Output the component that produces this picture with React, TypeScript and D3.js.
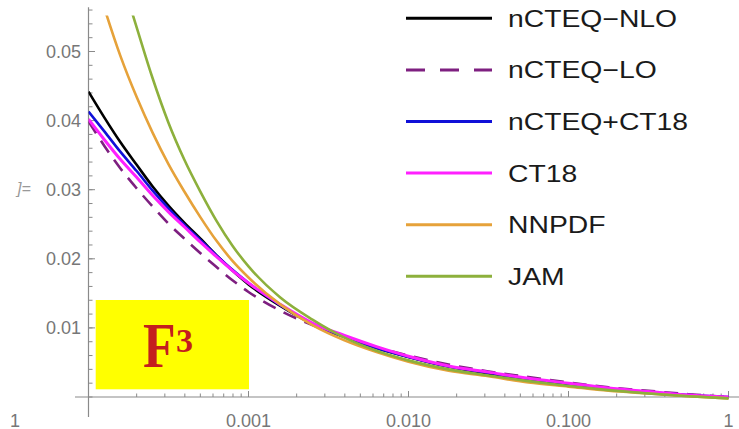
import * as d3 from "d3";

// x grid (log spaced), shared by every curve
const xValues = [
  0.0001, 0.000126, 0.000158, 0.0002, 0.000251, 0.000316, 0.000398, 0.000501,
  0.000631, 0.000794, 0.001, 0.00158, 0.00251, 0.00398, 0.00631, 0.01, 0.0178,
  0.0316, 0.0562, 0.1, 0.178, 0.316, 0.562, 1,
];

const nloValues = [
  0.0442, 0.0404, 0.0369, 0.0336, 0.0305, 0.0277, 0.0252, 0.0229, 0.0205,
  0.0183, 0.0163, 0.0132, 0.0106, 0.0087, 0.0071, 0.0058, 0.0044, 0.0034,
  0.0026, 0.0018, 0.0012, 0.0006, 0.0002, -0.0001,
];
const loValues = [
  0.0399, 0.0363, 0.0331, 0.0302, 0.0276, 0.0251, 0.0229, 0.0208, 0.0188,
  0.0169, 0.0152, 0.0125, 0.0104, 0.0087, 0.0072, 0.006, 0.0047, 0.0037,
  0.0029, 0.0021, 0.0014, 0.0009, 0.0004, 0.0,
];
const blueValues = [
  0.0413, 0.0384, 0.0355, 0.0327, 0.0299, 0.0273, 0.0249, 0.0227, 0.0205,
  0.0184, 0.0165, 0.0133, 0.0106, 0.0087, 0.0071, 0.0058, 0.0044, 0.0035,
  0.0026, 0.0019, 0.0012, 0.0007, 0.0003, 0.0,
];
const ct18Values = [
  0.0402, 0.0372, 0.0344, 0.0318, 0.0292, 0.0268, 0.0246, 0.0224, 0.0203,
  0.0183, 0.0165, 0.0134, 0.0107, 0.0089, 0.0073, 0.0059, 0.0045, 0.0036,
  0.0027, 0.002, 0.0013, 0.0008, 0.0003, 0.0,
];
const nnpdfValues = [
  0.0638, 0.0562, 0.0494, 0.0434, 0.0383, 0.0337, 0.0297, 0.026, 0.0226,
  0.0197, 0.0173, 0.0134, 0.0104, 0.0082, 0.0065, 0.0051, 0.0038, 0.003,
  0.0021, 0.0015, 0.0009, 0.0005, 0.0001, -0.0002,
];
const jamValues = [
  0.0782, 0.0695, 0.0612, 0.0535, 0.0462, 0.0397, 0.0343, 0.0297, 0.0255,
  0.0219, 0.0189, 0.0144, 0.0112, 0.0086, 0.0067, 0.0053, 0.004, 0.0031,
  0.0023, 0.0016, 0.001, 0.0005, 0.0001, -0.0002,
];

const seriesNames = ["nCTEQ\u2212NLO", "nCTEQ\u2212LO", "nCTEQ+CT18", "CT18", "NNPDF", "JAM"];
const seriesColors = ["#000000", "#7e1f80", "#1010d8", "#ff20ff", "#e6a23a", "#8db03c"];
const seriesData = [nloValues, loValues, blueValues, ct18Values, nnpdfValues, jamValues];

const xTickValues = [0.001, 0.01, 0.1, 1];
const xTickLabels = ["0.001", "0.010", "0.100", "1"];
const yTickValues = [0.01, 0.02, 0.03, 0.04, 0.05];
const yTickLabels = ["0.01", "0.02", "0.03", "0.04", "0.05"];

const W = 739;
const H = 429;

export default function App() {
  const x = d3.scaleLog().domain([1e-4, 1]).range([88.5, 728.5]);
  const y = d3.scaleLinear().domain([0, 0.05]).range([397, 51.5]);

  const line = d3
    .line<number>()
    .x((_, i) => x(xValues[i]))
    .y((d) => y(d))
    .curve(d3.curveMonotoneX);

  const axisColor = "#8a8a8a";
  const labelColor = "#777";
  const serif = "'Liberation Serif', 'Times New Roman', serif";

  const minorY = d3.range(0, 0.0565, 0.002);
  const minorX: number[] = [];
  [1e-4, 1e-3, 1e-2, 1e-1].forEach((d) => {
    for (let k = 2; k <= 9; k++) minorX.push(d * k);
  });

  return (
    <svg
      width={W}
      height={H}
      style={{ position: "absolute", left: 0, top: 0, fontFamily: "'Liberation Sans', Arial, sans-serif" }}
    >
      <defs>
        <clipPath id="plot">
          <rect x={x(1e-4)} y={y(0.0552)} width={x(1) - x(1e-4) + 2} height={y(-0.003) - y(0.0552)} />
        </clipPath>
      </defs>
      <rect width={W} height={H} fill="#fff" />

      {/* axes */}
      <line x1={75} x2={W} y1={y(0)} y2={y(0)} stroke={axisColor} strokeWidth={1.2} />
      <line x1={x(1e-4)} x2={x(1e-4)} y1={y(0.0564)} y2={y(-0.0029)} stroke={axisColor} strokeWidth={1.2} />

      {minorY.map((v, i) => (
        <line key={"my" + i} x1={x(1e-4)} x2={x(1e-4) + 4} y1={y(v)} y2={y(v)} stroke={axisColor} />
      ))}
      {yTickValues.map((v, i) => (
        <g key={"y" + i}>
          <line x1={x(1e-4)} x2={x(1e-4) + 6.5} y1={y(v)} y2={y(v)} stroke={axisColor} />
          <text x={81} y={y(v) + 6.5} textAnchor="end" fontSize={18} fill={labelColor}>
            {yTickLabels[i]}
          </text>
        </g>
      ))}

      {minorX.map((v, i) => (
        <line key={"mx" + i} x1={x(v)} x2={x(v)} y1={y(0)} y2={y(0) - 3.5} stroke={axisColor} />
      ))}
      {xTickValues.map((v, i) => (
        <g key={"x" + i}>
          <line x1={x(v)} x2={x(v)} y1={y(0)} y2={y(0) - 6} stroke={axisColor} />
          <text x={x(v)} y={426.5} textAnchor="middle" fontSize={18} fill={labelColor}>
            {xTickLabels[i]}
          </text>
        </g>
      ))}

      {/* curves */}
      <g clipPath="url(#plot)" fill="none">
        {seriesData.map((vals, i) => (
          <path
            key={seriesNames[i]}
            d={line(vals) ?? ""}
            stroke={seriesColors[i]}
            strokeWidth={i === 3 ? 3 : 2.6}
            strokeDasharray={i === 1 ? "14 9" : undefined}
          />
        ))}
      </g>

      {/* legend */}
      {seriesNames.map((name, i) => {
        const cy = 18.3 + i * 51.6;
        return (
          <g key={"leg" + i}>
            <line x1={406} x2={492} y1={cy} y2={cy} stroke={seriesColors[i]} strokeWidth={3} strokeDasharray={i === 1 ? "19 15" : undefined} />
            <text transform={`translate(508,${cy + 8.5}) scale(1.18,1)`} fontSize={24} fill="#1a1a1a">
              {name}
            </text>
          </g>
        );
      })}

      {/* F3 label box */}
      <rect x={95.7} y={300} width={153.3} height={89.3} fill="#ffff00" />
      <text transform="translate(143,366.7) scale(0.85,1)" fontFamily={serif} fontWeight="bold" fontSize={63} fill="#c41e1e">
        F
      </text>
      <text x={176} y={352} fontFamily={serif} fontWeight="bold" fontSize={34} fill="#c41e1e">
        3
      </text>

      {/* fragments from neighbouring cells */}
      <text x={17} y={194} fontSize={16} fill="#999" fontStyle="italic">
        ]=
      </text>
      <text x={10} y={426.5} fontSize={18} fill={labelColor}>
        1
      </text>
    </svg>
  );
}
